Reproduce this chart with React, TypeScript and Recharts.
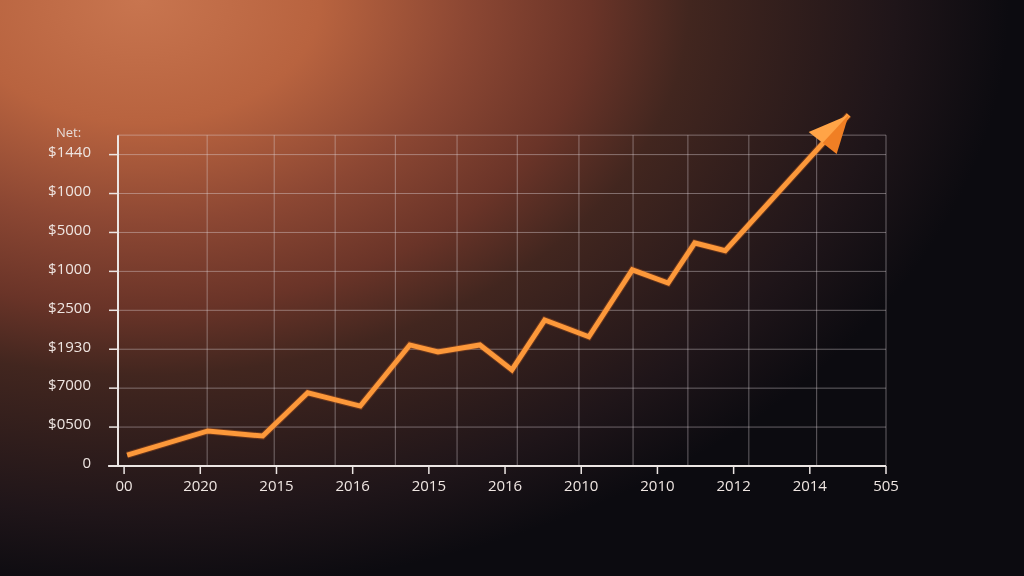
import React from 'react';
import { LineChart, Line, XAxis, YAxis, ReferenceLine } from 'recharts';

// tick labels exactly as printed in the picture
const xLabels = ['00', '2020', '2015', '2016', '2015', '2016', '2010', '2010', '2012', '2014', '505'];
const yLabels = ['0', '$0500', '$7000', '$1930', '$2500', '$1000', '$5000', '$1000', '$1440'];
const xTicks = [0, 1, 2, 3, 4, 5, 6, 7, 8, 9, 10];
const yTicks = [0, 1, 2, 3, 4, 5, 6, 7, 8];

// grid lines do not sit on the ticks in the original
const gridX = [1.09, 1.97, 2.77, 3.56, 4.37, 5.16, 5.97, 6.68, 7.4, 8.2, 9.09, 10];
const gridY = [1, 2, 3, 4, 5, 6, 7, 8, 8.5];

const points = [
  { t: 0.04, v: 0.28 },
  { t: 1.1, v: 0.9 },
  { t: 1.82, v: 0.77 },
  { t: 2.41, v: 1.88 },
  { t: 3.1, v: 1.54 },
  { t: 3.75, v: 3.11 },
  { t: 4.12, v: 2.93 },
  { t: 4.67, v: 3.11 },
  { t: 5.09, v: 2.47 },
  { t: 5.52, v: 3.75 },
  { t: 6.1, v: 3.32 },
  { t: 6.67, v: 5.04 },
  { t: 7.14, v: 4.7 },
  { t: 7.49, v: 5.73 },
  { t: 7.89, v: 5.53 },
  { t: 9.51, v: 9.02 },
];

const X_MIN = -0.08;
const Y_TOP = 8.5;
const GRID = 'rgba(225, 215, 220, 0.42)';
const AXIS = '#ece6e4';
const FONT = '"Open Sans", "Noto Sans", sans-serif';

const YTick = (props: any) => {
  const { x, y, payload } = props;
  return (
    <text x={x} y={y - 3} dy="0.355em" textAnchor="end" fill="#efe6e2" fontSize={15} fontFamily={FONT}>
      {yLabels[payload.value]}
    </text>
  );
};

const XTick = (props: any) => {
  const { x, y, payload } = props;
  return (
    <text x={x} y={y} dy="0.71em" textAnchor="middle" fill="#efe6e2" fontSize={15} fontFamily={FONT}>
      {xLabels[payload.value]}
    </text>
  );
};

// arrow head on the last point
const ArrowDot = (props: any) => {
  const { cx, cy, index } = props;
  if (index !== points.length - 1) return <g key={`d${index}`} />;
  return (
    <g key={`d${index}`}>
      <polygon points={`${cx},${cy} ${cx - 40},${cy + 17} ${cx - 26},${cy + 28}`} fill="#ffa447" />
      <polygon points={`${cx},${cy} ${cx - 26},${cy + 28} ${cx - 12},${cy + 39}`} fill="#f07f24" />
    </g>
  );
};

export default function App() {
  return (
    <div
      style={{
        position: 'fixed',
        left: 0,
        top: 0,
        width: 1024,
        height: 576,
        overflow: 'hidden',
        background:
          'radial-gradient(820px 560px at 140px 0px, #c8754f 0%, #b8633f 22%, #8c4733 40%, #6a3428 55%, #42261f 67%, #1f1519 92%, #0c0b10 106%)',
      }}
    >
      <div
        style={{
          position: 'absolute',
          left: 56,
          top: 123,
          fontSize: 13,
          color: '#e8ddd8',
          fontFamily: FONT,
        }}
      >
        Net:
      </div>
      <LineChart width={1024} height={576} data={points} margin={{ top: 104, right: 138, bottom: 80, left: 0 }}>
        <XAxis
          dataKey="t"
          type="number"
          domain={[X_MIN, 10]}
          ticks={xTicks}
          tick={<XTick />}
          tickSize={8}
          tickMargin={6}
          height={30}
          axisLine={{ stroke: AXIS, strokeWidth: 2 }}
          tickLine={{ stroke: AXIS, strokeWidth: 1.5 }}
        />
        <YAxis
          type="number"
          domain={[0, 9.3]}
          ticks={yTicks}
          tick={<YTick />}
          width={118}
          tickSize={9}
          tickMargin={18}
          axisLine={false}
          tickLine={{ stroke: AXIS, strokeWidth: 1.5 }}
        />
        {gridY.map((g) => (
          <ReferenceLine
            key={`gy${g}`}
            segment={[{ x: X_MIN, y: g }, { x: 10, y: g }]}
            stroke={GRID}
            strokeWidth={1}
          />
        ))}
        {gridX.map((g) => (
          <ReferenceLine
            key={`gx${g}`}
            segment={[{ x: g, y: 0 }, { x: g, y: Y_TOP }]}
            stroke={GRID}
            strokeWidth={1}
          />
        ))}
        <ReferenceLine
          segment={[{ x: X_MIN, y: 0 }, { x: X_MIN, y: Y_TOP }]}
          stroke={AXIS}
          strokeWidth={2}
        />
        <ReferenceLine
          segment={[{ x: -0.21, y: 0 }, { x: X_MIN, y: 0 }]}
          stroke={AXIS}
          strokeWidth={2}
          ifOverflow="visible"
        />
        <Line
          dataKey="v"
          stroke="#c85e1c"
          strokeOpacity={0.35}
          strokeWidth={7}
          dot={false}
          activeDot={false}
          isAnimationActive={false}
        />
        <Line
          dataKey="v"
          stroke="#fc983a"
          strokeWidth={5}
          dot={<ArrowDot />}
          activeDot={false}
          isAnimationActive={false}
        />
      </LineChart>
    </div>
  );
}
